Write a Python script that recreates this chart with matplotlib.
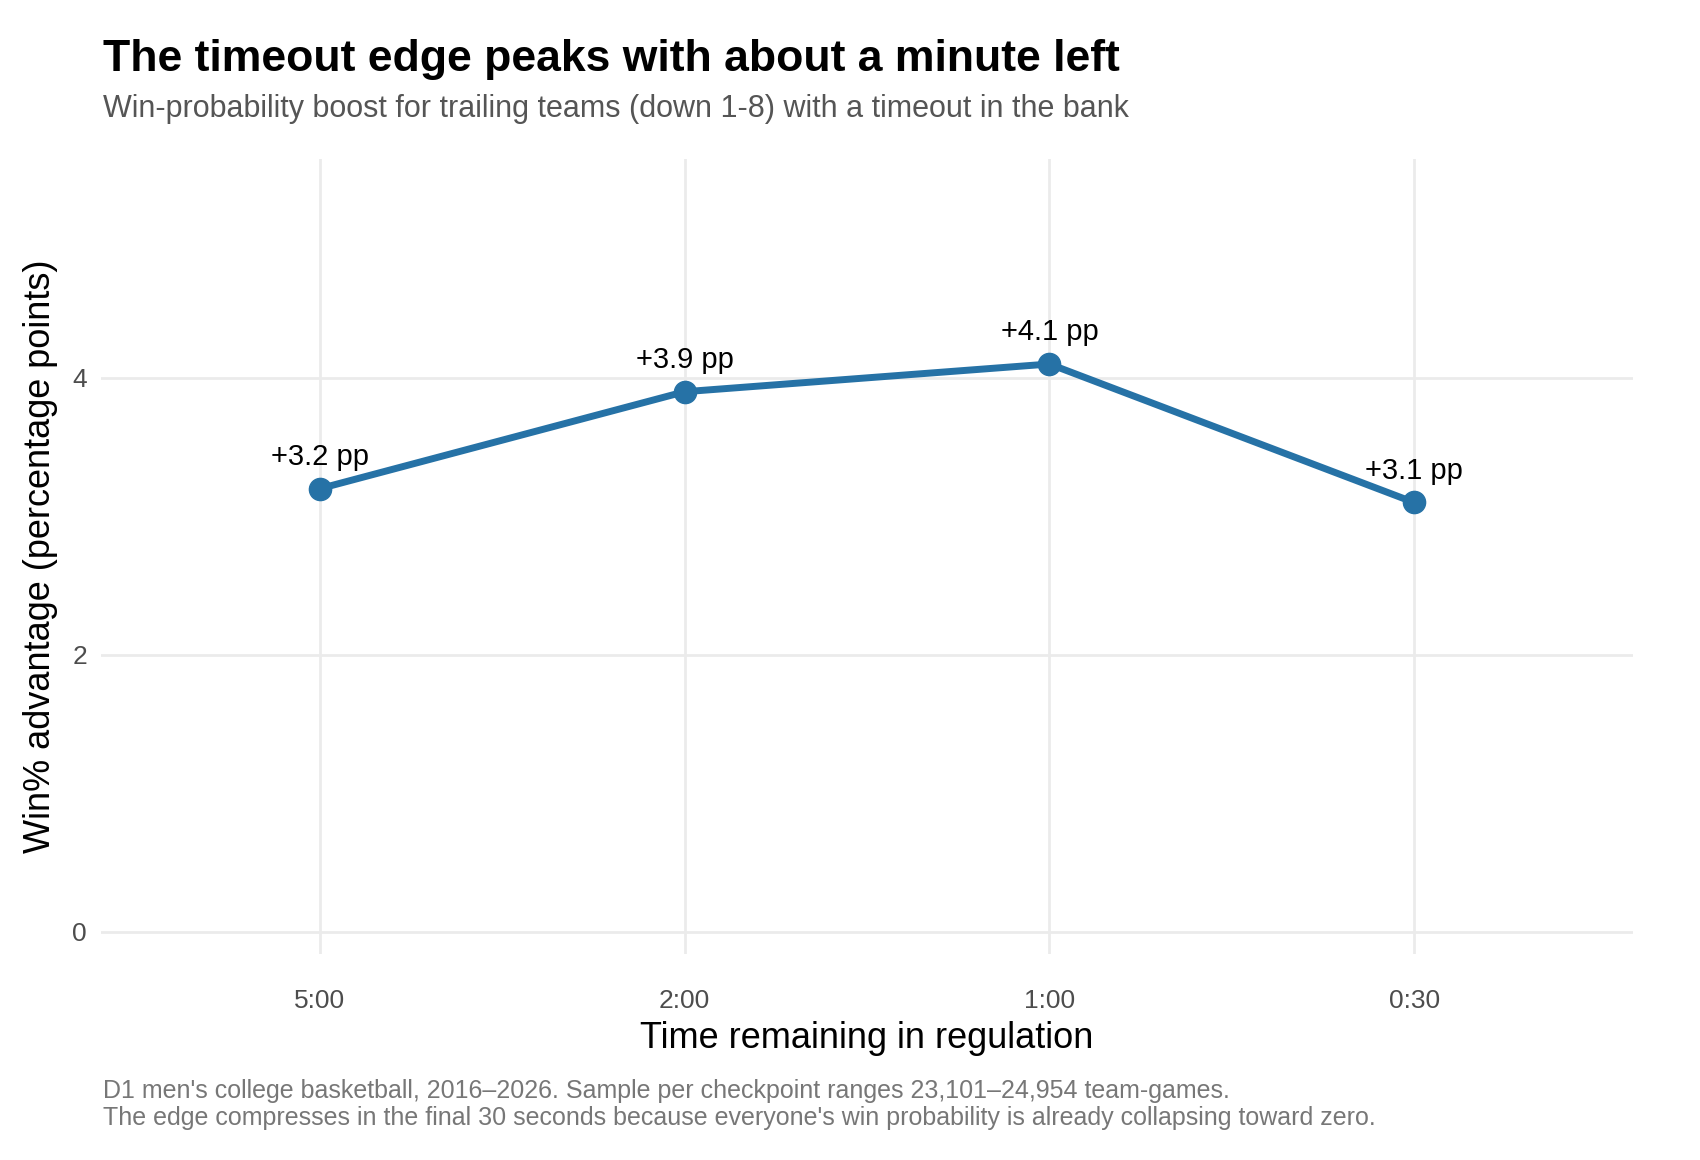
import matplotlib.pyplot as plt

# checkpoints (time remaining) and win% edge in percentage points
checkpoints = ['5:00', '2:00', '1:00', '0:30']
edge_pp = [3.2, 3.9, 4.1, 3.1]
labels = ['+3.2 pp', '+3.9 pp', '+4.1 pp', '+3.1 pp']
y_ticks = [0, 2, 4]

plt.rcParams['font.family'] = ['Liberation Sans', 'DejaVu Sans']

line_col = '#2672A6'
grid_col = '#EBEBEB'

fig = plt.figure(figsize=(17, 11.6), dpi=100)
ax = fig.add_axes([0.0594, 0.1776, 0.9012, 0.6853])

x = list(range(1, len(checkpoints) + 1))
ax.plot(x, edge_pp, color=line_col, lw=5, solid_capstyle='round', zorder=3)
ax.plot(x, edge_pp, 'o', color=line_col, ms=16, zorder=4)
for xi, yi, lab in zip(x, edge_pp, labels):
    ax.annotate(lab, (xi, yi), xytext=(0, 23), textcoords='offset points',
                ha='center', va='center', fontsize=21, color='black')

ax.set_xlim(0.4, 4.6)
ax.set_ylim(-0.16, 5.58)
ax.set_xticks(x)
ax.set_xticklabels(checkpoints)
ax.set_yticks(y_ticks)

for s in ax.spines.values():
    s.set_visible(False)
ax.grid(True, color=grid_col, lw=2)
ax.set_axisbelow(True)
ax.tick_params(length=0, labelsize=19, labelcolor='#4D4D4D', pad=10)
ax.tick_params(axis='x', pad=25)

ax.set_xlabel('Time remaining in regulation', fontsize=26, labelpad=6)
ax.set_ylabel('Win% advantage (percentage points)', fontsize=26, labelpad=10)

fig.text(0.0605, 0.949, 'The timeout edge peaks with about a minute left',
         fontsize=32, fontweight='bold', va='center', ha='left')
fig.text(0.0605, 0.906, 'Win-probability boost for trailing teams (down 1-8) with a timeout in the bank',
         fontsize=22, color='#555555', va='center', ha='left')
fig.text(0.0605, 0.026,
         "D1 men's college basketball, 2016\u20132026. Sample per checkpoint ranges 23,101\u201324,954 team-games.\n"
         "The edge compresses in the final 30 seconds because everyone's win probability is already collapsing toward zero.",
         fontsize=18, color='#777777', va='bottom', ha='left', linespacing=1.15)

fig.savefig('out.png', dpi=100, facecolor='white')
